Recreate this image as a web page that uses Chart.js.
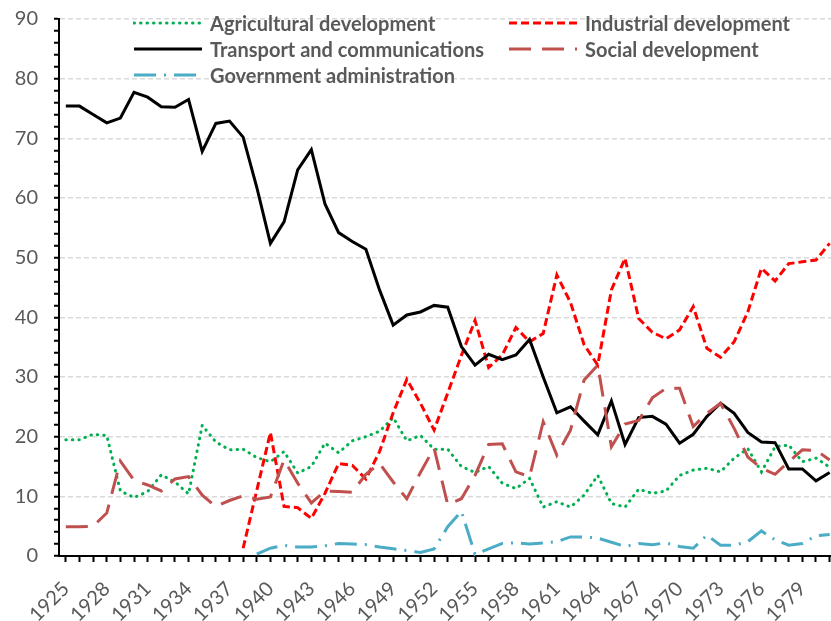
<!DOCTYPE html>
<html>
<head>
<meta charset="utf-8">
<script src="https://cdn.jsdelivr.net/npm/chart.js@4.4.1/dist/chart.umd.min.js"></script>
<style>
    html, body { margin: 0; padding: 0; background: #fff; }
    #wrap { position: relative; width: 831px; height: 621px; }
    #legend { position: absolute; left: 0; top: 0; }
    .leg-item { position: absolute; height: 26px; display: flex; align-items: center; white-space: nowrap; }
    .leg-item svg { display: block; }
    .leg-item span { font-family: Lato, "Liberation Sans", sans-serif; font-weight: bold; font-size: 20px; color: #595959; margin-left: 7px; }
</style>
</head>
<body>
<div id="wrap">
    <canvas id="chart" width="831" height="621"></canvas>
    <div id="legend"></div>
</div>
<script>
// years on the x axis
const years = [1925, 1926, 1927, 1928, 1929, 1930, 1931, 1932, 1933, 1934,
    1935, 1936, 1937, 1938, 1939, 1940, 1941, 1942, 1943, 1944,
    1945, 1946, 1947, 1948, 1949, 1950, 1951, 1952, 1953, 1954,
    1955, 1956, 1957, 1958, 1959, 1960, 1961, 1962, 1963, 1964,
    1965, 1966, 1967, 1968, 1969, 1970, 1971, 1972, 1973, 1974,
    1975, 1976, 1977, 1978, 1979, 1980, 1981];
const xTickLabels = ['1925', '1928', '1931', '1934', '1937', '1940', '1943', '1946', '1949',
    '1952', '1955', '1958', '1961', '1964', '1967', '1970', '1973', '1976', '1979'];
const yTickLabels = [0, 10, 20, 30, 40, 50, 60, 70, 80, 90];

// series values (%), one per year
const agricultural = [19.5, 19.5, 20.4, 20.2, 10.9, 9.8, 10.8, 13.6, 12.4, 10.4,
    21.9, 19.1, 17.8, 17.9, 16.5, 15.8, 17.5, 13.9, 15.0, 18.9,
    17.3, 19.3, 20.0, 20.9, 23.2, 19.3, 20.2, 17.9, 17.9, 15.0,
    14.0, 15.0, 12.2, 11.3, 13.0, 8.2, 9.1, 8.2, 10.2, 13.5,
    8.8, 8.2, 11.2, 10.5, 10.9, 13.5, 14.4, 14.7, 14.1, 16.4,
    18.0, 14.1, 18.3, 18.6, 15.8, 16.4, 14.9];
const industrial = [null, null, null, null, null, null, null, null, null, null,
    null, null, null, 1.3, 11.0, 20.7, 8.3, 8.1, 6.3, 10.5,
    15.5, 15.2, 12.9, 17.5, 24.0, 29.6, 25.6, 21.1, 27.3, 33.6,
    39.5, 31.6, 33.7, 38.3, 35.9, 37.3, 47.1, 42.5, 35.4, 32.0,
    44.6, 49.9, 39.8, 37.5, 36.4, 37.9, 41.8, 34.8, 33.3, 35.9,
    40.9, 48.2, 46.1, 49.0, 49.3, 49.6, 52.4];
const transport = [75.4, 75.4, 74.0, 72.6, 73.4, 77.7, 76.9, 75.3, 75.2, 76.5,
    67.8, 72.5, 72.9, 70.2, 61.8, 52.4, 56.0, 64.7, 68.1, 59.0,
    54.2, 52.7, 51.4, 44.6, 38.7, 40.4, 40.9, 42.0, 41.7, 35.1,
    32.0, 33.8, 32.9, 33.7, 36.3, 30.0, 24.0, 25.0, 22.6, 20.3,
    26.0, 18.7, 23.2, 23.4, 22.1, 18.9, 20.4, 23.4, 25.6, 23.9,
    20.7, 19.1, 19.0, 14.6, 14.6, 12.6, 14.0];
const social = [4.9, 4.9, 5.0, 7.2, 15.9, 12.7, 11.9, 10.9, 12.9, 13.3,
    10.2, 8.3, 9.3, 10.1, 9.5, 9.9, 16.1, 12.2, 8.9, 10.9,
    10.8, 10.7, 13.7, 15.5, 12.4, 9.6, 14.0, 18.1, 8.6, 9.6,
    13.5, 18.7, 18.8, 14.1, 13.3, 22.5, 16.9, 21.1, 29.5, 32.0,
    18.3, 22.1, 22.7, 26.5, 28.1, 28.1, 21.7, 23.9, 25.6, 21.4,
    16.6, 14.7, 13.7, 15.8, 17.8, 17.7, 16.1];
const government = [null, null, null, null, null, null, null, null, null, null,
    null, null, null, null, 0.3, 1.3, 1.8, 1.5, 1.5, 1.7,
    2.1, 2.0, 1.9, 1.5, 1.2, 0.9, 0.6, 1.2, 4.9, 7.5,
    0.3, 1.2, 2.1, 2.2, 2.0, 2.2, 2.4, 3.2, 3.2, 3.0,
    2.3, 1.6, 2.1, 1.9, 2.2, 1.6, 1.3, 3.5, 1.8, 1.8,
    2.4, 4.2, 2.7, 1.8, 2.1, 3.4, 3.6];

const seriesList = [
    { label: 'Agricultural development', values: agricultural, color: '#00B050', dash: [0.5, 6], cap: 'round' },
    { label: 'Industrial development', values: industrial, color: '#FF0000', dash: [8, 4], cap: 'butt' },
    { label: 'Transport and communications', values: transport, color: '#000000', dash: [], cap: 'butt' },
    { label: 'Social development', values: social, color: '#C0504D', dash: [22, 11], cap: 'butt' },
    { label: 'Government administration', values: government, color: '#4BACC6', dash: [22, 8, 2, 8], cap: 'butt' }
];

const tickFont = { family: 'Lato, "Liberation Sans", sans-serif', size: 20 };

const datasets = seriesList.map((s, i) => ({
    label: s.label,
    data: years.map((y, j) => ({ x: y, y: s.values[j] })),
    borderColor: s.color,
    borderWidth: 3,
    borderDash: s.dash,
    borderCapStyle: s.cap,
    fill: false,
    pointRadius: 0,
    tension: 0,
    order: seriesList.length - i
}));

new Chart(document.getElementById('chart').getContext('2d'), {
    type: 'line',
    data: { datasets: datasets },
    options: {
        responsive: false,
        animation: false,
        layout: { padding: { top: 19, right: 0, left: 0, bottom: 0 } },
        plugins: { legend: { display: false }, tooltip: { enabled: false } },
        scales: {
            x: {
                type: 'linear',
                min: 1924.5,
                max: 1981.1,
                afterBuildTicks: scale => { scale.ticks = years.map(v => ({ value: v })); },
                afterFit: scale => {
                    scale.height = 65;
                    scale.paddingRight = 0;
                },
                ticks: {
                    autoSkip: false,
                    minRotation: 45,
                    maxRotation: 45,
                    padding: 15,
                    color: '#595959',
                    font: tickFont,
                    callback: v => xTickLabels.includes(String(v)) ? String(v) : ''
                },
                grid: { drawOnChartArea: false, drawTicks: true, tickLength: 6, tickColor: '#000', tickWidth: 2 },
                border: { color: '#000', width: 2 }
            },
            y: {
                min: 0,
                max: 90,
                afterFit: scale => {
                    scale.width = 59;
                    scale.paddingTop = 0;
                    scale.paddingBottom = 0;
                },
                ticks: {
                    stepSize: 2,
                    autoSkip: false,
                    padding: 16,
                    color: '#595959',
                    font: tickFont,
                    callback: v => yTickLabels.includes(v) ? String(v) : ''
                },
                grid: {
                    color: ctx => (ctx.tick && ctx.tick.value > 0 && yTickLabels.includes(ctx.tick.value)) ? '#d9d9d9' : 'transparent',
                    lineWidth: 1.5,
                    drawTicks: true,
                    tickLength: 5,
                    tickColor: '#000',
                    tickWidth: 2
                },
                border: { color: '#000', width: 2, dash: [5, 3] }
            }
        }
    }
});

// legend laid over the top of the plot, two columns
const legendPos = [
    { left: 133, top: 10 },
    { left: 508, top: 10 },
    { left: 133, top: 36 },
    { left: 508, top: 36 },
    { left: 133, top: 61.5 }
];
const legend = document.getElementById('legend');
seriesList.forEach((s, i) => {
    const item = document.createElement('div');
    item.className = 'leg-item';
    item.style.left = legendPos[i].left + 'px';
    item.style.top = legendPos[i].top + 'px';
    item.innerHTML = `
        <svg width="70" height="10">
            <line x1="1" y1="5" x2="69" y2="5" stroke="${s.color}" stroke-width="3"
                stroke-dasharray="${s.dash.join(' ')}" stroke-linecap="${s.cap}" />
        </svg>
        <span>${s.label}</span>
    `;
    legend.appendChild(item);
});
</script>
</body>
</html>
